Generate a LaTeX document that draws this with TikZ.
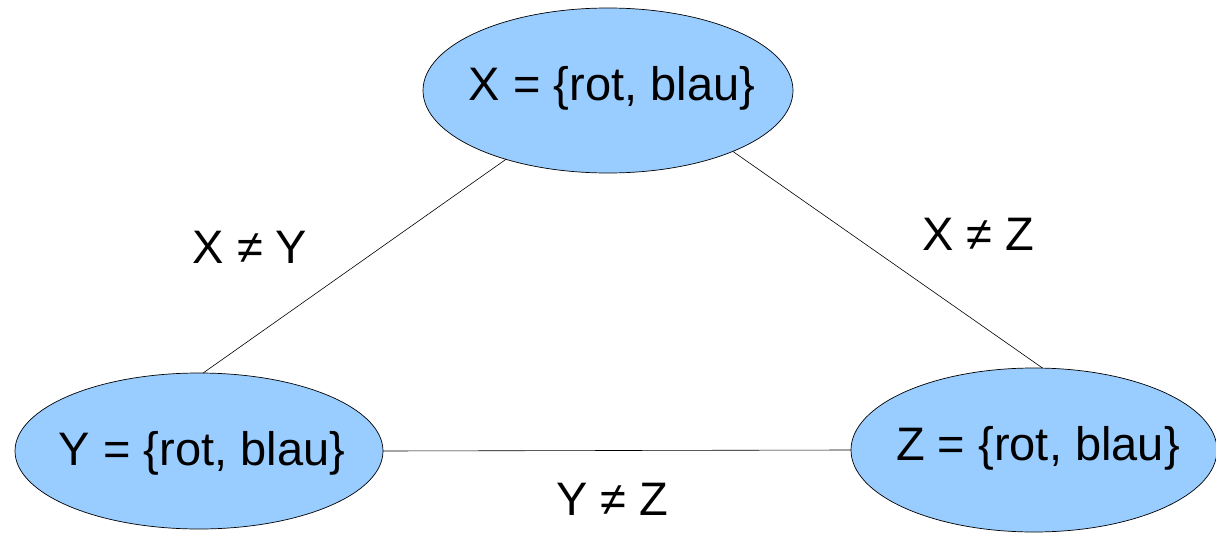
\documentclass[tikz,border=0pt]{standalone}
\usepackage{fontspec}
\setmainfont{Liberation Sans}
\usetikzlibrary{shapes.geometric}
\definecolor{fillblue}{HTML}{99CCFF}
\begin{document}
\begin{tikzpicture}[x=1pt,y=-1pt,
  ell/.style={ellipse,draw=black,line width=0.7pt,fill=fillblue,inner sep=0pt,outer sep=0pt},
  lbl/.style={anchor=base,inner sep=0pt,font=\fontsize{47}{56}\selectfont},
  conn/.style={draw=black,line width=0.6pt}]
\useasboundingbox (0,0) rectangle (1216,535);
\node[ell,minimum width=370pt,minimum height=165pt] (X) at (608,90.5) {};
\node[ell,minimum width=368pt,minimum height=156pt] (Y) at (199,451) {};
\node[ell,minimum width=366pt,minimum height=164pt] (Z) at (1034,450) {};
\node[lbl] (Xt) at (612,100) {X = \{rot, blau\}};
\node[lbl] (Yt) at (202,465) {Y = \{rot, blau\}};
\node[lbl] (Zt) at (1038,460) {Z = \{rot, blau\}};
\draw[conn] (X.214) -- (Y.87);
\draw[conn] (X.-26.6) -- (Z.84.4);
\draw[conn] (Y.east) -- (Z.west);
\node[lbl] (lxy) at (250,263) {X ≠ Y};
\node[lbl] (lxz) at (978,250) {X ≠ Z};
\node[lbl] (lyz) at (612,515) {Y ≠ Z};
\end{tikzpicture}
\end{document}
